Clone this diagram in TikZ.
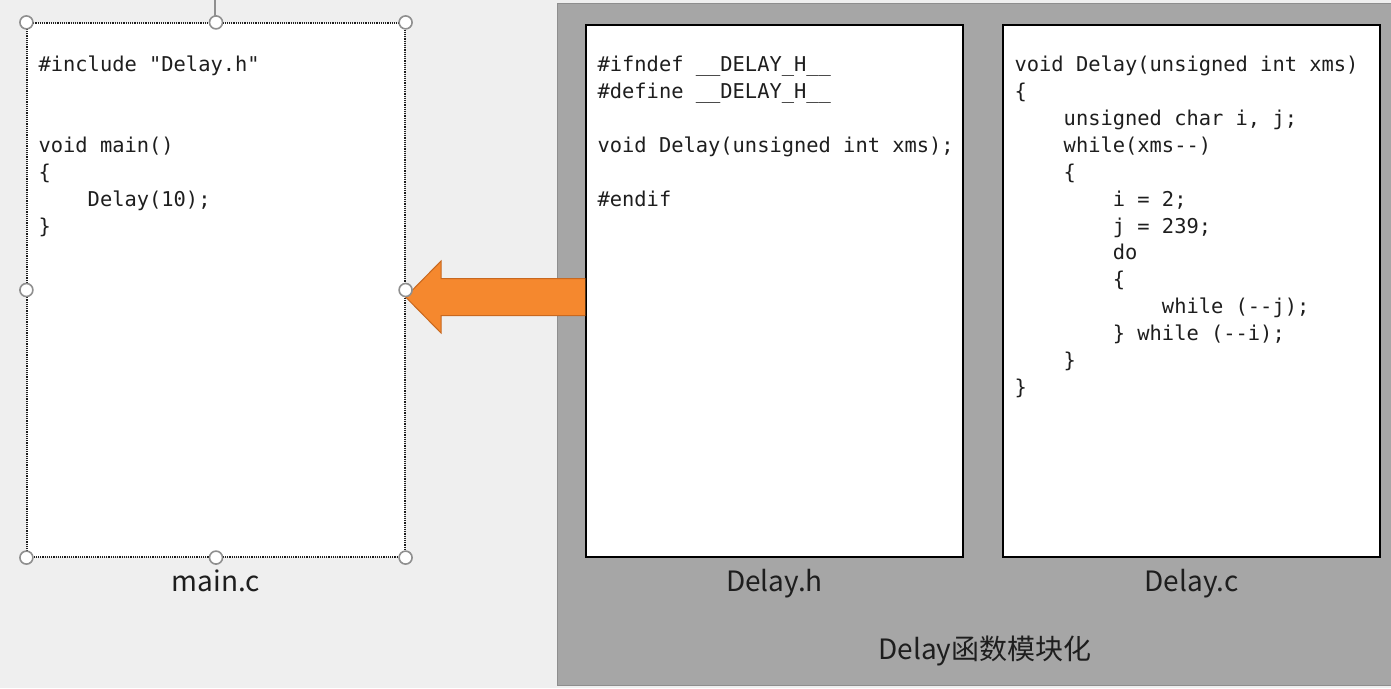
\documentclass[tikz,border=0pt]{standalone}
\usepackage{fontspec}
\setmonofont{DejaVu Sans Mono}
\newfontfamily\cjk{Noto Sans CJK SC}
\usepackage{tikz}
\usetikzlibrary{positioning}

\definecolor{pagegray}{HTML}{EFEFEF}
\definecolor{panelgray}{HTML}{A6A6A6}
\definecolor{paneledge}{HTML}{8E8E8E}
\definecolor{handlegray}{HTML}{8F8F8F}
\definecolor{arroworange}{HTML}{F5882E}
\definecolor{arrowedge}{HTML}{C8681F}
\definecolor{codeink}{HTML}{1E1E1E}
\newcommand{\codeind}{\phantom{0000}}

\begin{document}
\begin{tikzpicture}[x=1pt,y=-1pt,
  filebox/.style={draw=black,line width=1.2pt,fill=white,minimum width=377pt,minimum height=532pt,inner sep=0pt},
  codetext/.style={anchor=north west,inner sep=0pt,align=left,text=codeink,font=\ttfamily\fontsize{20.4pt}{26.9pt}\selectfont},
  caption/.style={anchor=base,inner sep=0pt,text=codeink,font=\cjk\fontsize{28pt}{32pt}\selectfont},
  handle/.style={circle,draw=handlegray,fill=white,line width=1.6pt,minimum size=13pt,inner sep=0pt},
  bigarrow/.style={fill=arroworange,draw=arrowedge,line width=1pt,line join=miter}]
\useasboundingbox (0,0) rectangle (1391,688);
\fill[pagegray] (0,0) rectangle (1391,688);
% module panel
\filldraw[fill=panelgray,draw=paneledge,line width=1pt] (557,3) rectangle (1392,685);
% main.c (selected)
\draw[handlegray,line width=1.2pt] (215,0) -- (215,17);
\node[filebox,draw=codeink,densely dotted,minimum width=378pt,minimum height=534pt] (mainbox) at (216,290) {};
\node[codetext] (maincode) at ([xshift=12pt,yshift=-30.2pt]mainbox.north west)
  {\strut\#include "Delay.h"\\ \mbox{}\\ \mbox{}\\ void main()\\ \{\\ \codeind Delay(10);\\ \}};
% header and source
\node[filebox] (hbox) at (774.5,291) {};
\node[filebox] (cbox) at (1191.5,291) {};
\node[codetext] (hcode) at ([xshift=12pt,yshift=-28.2pt]hbox.north west)
  {\strut\#ifndef \_\_DELAY\_H\_\_\\ \#define \_\_DELAY\_H\_\_\\ \mbox{}\\ void Delay(unsigned int xms);\\ \mbox{}\\ \#endif};
\node[codetext] (ccode) at ([xshift=12pt,yshift=-28.2pt]cbox.north west)
  {\strut void Delay(unsigned int xms)\\ \{\\
   \codeind unsigned char i, j;\\
   \codeind while(xms{-}{-})\\
   \codeind \{\\
   \codeind\codeind i = 2;\\
   \codeind\codeind j = 239;\\
   \codeind\codeind do\\
   \codeind\codeind \{\\
   \codeind\codeind\codeind while ({-}{-}j);\\
   \codeind\codeind \} while ({-}{-}i);\\
   \codeind \}\\
   \}};
% include arrow
\coordinate (tip) at ([yshift=-7pt]mainbox.east);
\filldraw[bigarrow] (hbox.west |- 0,278.5) -- (441,278.5) -- (441,261) -- (tip)
  -- (441,333) -- (441,315.5) -- (hbox.west |- 0,315.5);
\foreach \a in {north west,north,north east,west,east,south west,south,south east}
  \node[handle] at (mainbox.\a) {};
% captions
\node[caption] (mainlbl) at ([yshift=-34pt]mainbox.south) {main.c};
\node[caption] (hlbl) at ([yshift=-34pt]hbox.south) {Delay.h};
\node[caption] (clbl) at ([yshift=-34pt]cbox.south) {Delay.c};
\node[caption] (modlbl) at (985,659) {Delay函数模块化};
\end{tikzpicture}
\end{document}
